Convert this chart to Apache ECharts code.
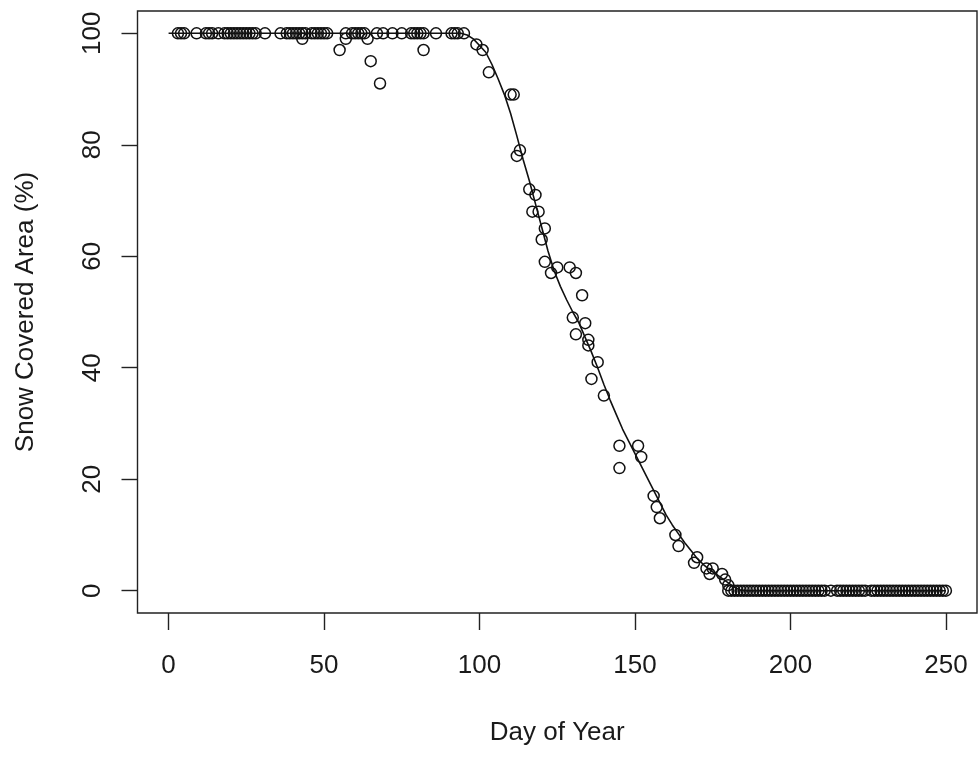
<!DOCTYPE html>
<html>
<head>
<meta charset="utf-8">
<script src="https://cdn.jsdelivr.net/npm/echarts@6/dist/echarts.min.js"></script>
<style>html,body{margin:0;padding:0;background:#fff;}#c{width:980px;height:761px;}</style>
</head>
<body>
<div id="c"></div>
<script>
// Observed points: full snow cover days (100%)
const fullDays = [3,4,5,9,12,13,14,16,18,19,20,21,22,23,24,25,26,27,28,31,36,38,39,40,41,42,43,44,46,47,48,49,50,51,57,59,60,61,62,63,67,69,72,75,78,79,80,81,82,86,91,92,93,95];
// Observed points: partial snow cover
const partDays = [43,55,57,64,65,68,82,99,101,103,110,111,112,113,116,117,118,119,120,121,121,123,125,129,131,133,130,134,131,135,135,138,136,140,145,151,152,145,156,157,158,163,164,169,170,173,174,175,178,179,180,180];
const partSCA  = [99,97,99,99,95,91,97,98,97,93,89,89,78,79,72,68,71,68,63,65,59,57,58,58,57,53,49,48,46,45,44,41,38,35,26,26,24,22,17,15,13,10,8,5,6,4,3,4,3,2,1,0];
// Observed points: snow-free days (0%)
const zeroDays = [181,182,183,184,185,186,187,188,189,190,191,192,193,194,195,196,197,198,199,200,201,202,203,204,205,206,207,208,209,210,211,213,215,216,217,218,219,220,221,222,223,224,226,227,228,229,230,231,232,233,234,235,236,237,238,239,240,241,242,243,244,245,246,247,248,249,250];
// Fitted depletion curve
const curveDays = [0,94,96,98,100,102,104,106,108,110,112,114,116,118,120,122,124,126,128,130,132,134,136,138,140,142,144,146,148,150,152,154,156,158,160,162,164,166,168,170,172,174,176,178,180,182,184,186,250];
const curveSCA  = [100,100,99.7,99,97.8,96.6,94.4,91.8,89,85.6,81.6,77.4,73.6,69.4,65.2,61,57.4,54.6,52.2,50,48,45.4,42.8,40,37,34.2,31.6,29,26.8,24.6,22.4,20.2,18,15.8,13.6,11.8,10.2,8.6,7.2,5.8,4.7,3.8,3,2.2,1.4,0.6,0.1,0,0];

const xTicks = [0,50,100,150,200,250];
const yTicks = [0,20,40,60,80,100];

const scatterData = [];
fullDays.forEach(d => scatterData.push([d,100]));
partDays.forEach((d,i) => scatterData.push([d,partSCA[i]]));
zeroDays.forEach(d => scatterData.push([d,0]));
const curveData = curveDays.map((d,i) => [d,curveSCA[i]]);

const chart = echarts.init(document.getElementById('c'), null, {renderer:'canvas'});
const txt = '#1a1a1a';
const font = 'Liberation Sans, Arial, sans-serif';
chart.setOption({
  animation:false,
  backgroundColor:'#fff',
  grid:{left:137.5, right:3, top:11, bottom:148, show:true, borderColor:'#222', borderWidth:1.4, backgroundColor:'transparent'},
  xAxis:{
    type:'value', min:-10, max:260,
    name:'Day of Year', nameLocation:'middle', nameGap:107,
    nameTextStyle:{color:txt, fontSize:26, fontFamily:font},
    axisLine:{show:false, onZero:false},
    splitLine:{show:false},
    axisTick:{show:true, inside:false, length:17, lineStyle:{color:'#222', width:1.4}, customValues:xTicks},
    axisLabel:{show:true, margin:40, color:txt, fontSize:26, fontFamily:font, customValues:xTicks}
  },
  yAxis:{
    type:'value', min:-4, max:104,
    name:'Snow Covered Area (%)', nameLocation:'middle', nameGap:99,
    nameTextStyle:{color:txt, fontSize:26, fontFamily:font},
    axisLine:{show:false, onZero:false},
    splitLine:{show:false},
    axisTick:{show:true, inside:false, length:16, lineStyle:{color:'#222', width:1.4}, customValues:yTicks},
    axisLabel:{show:true, rotate:90, margin:32, color:txt, fontSize:26, fontFamily:font, customValues:yTicks, align:'center', verticalAlign:'bottom'}
  },
  series:[
    {type:'scatter', data:scatterData, symbol:'circle', symbolSize:11,
     itemStyle:{color:'rgba(0,0,0,0)', borderColor:'#111', borderWidth:1.5, opacity:1}, z:3},
    {type:'line', data:curveData, showSymbol:false, smooth:false,
     lineStyle:{color:'#111', width:1.6}, z:4}
  ]
});
</script>
</body>
</html>
